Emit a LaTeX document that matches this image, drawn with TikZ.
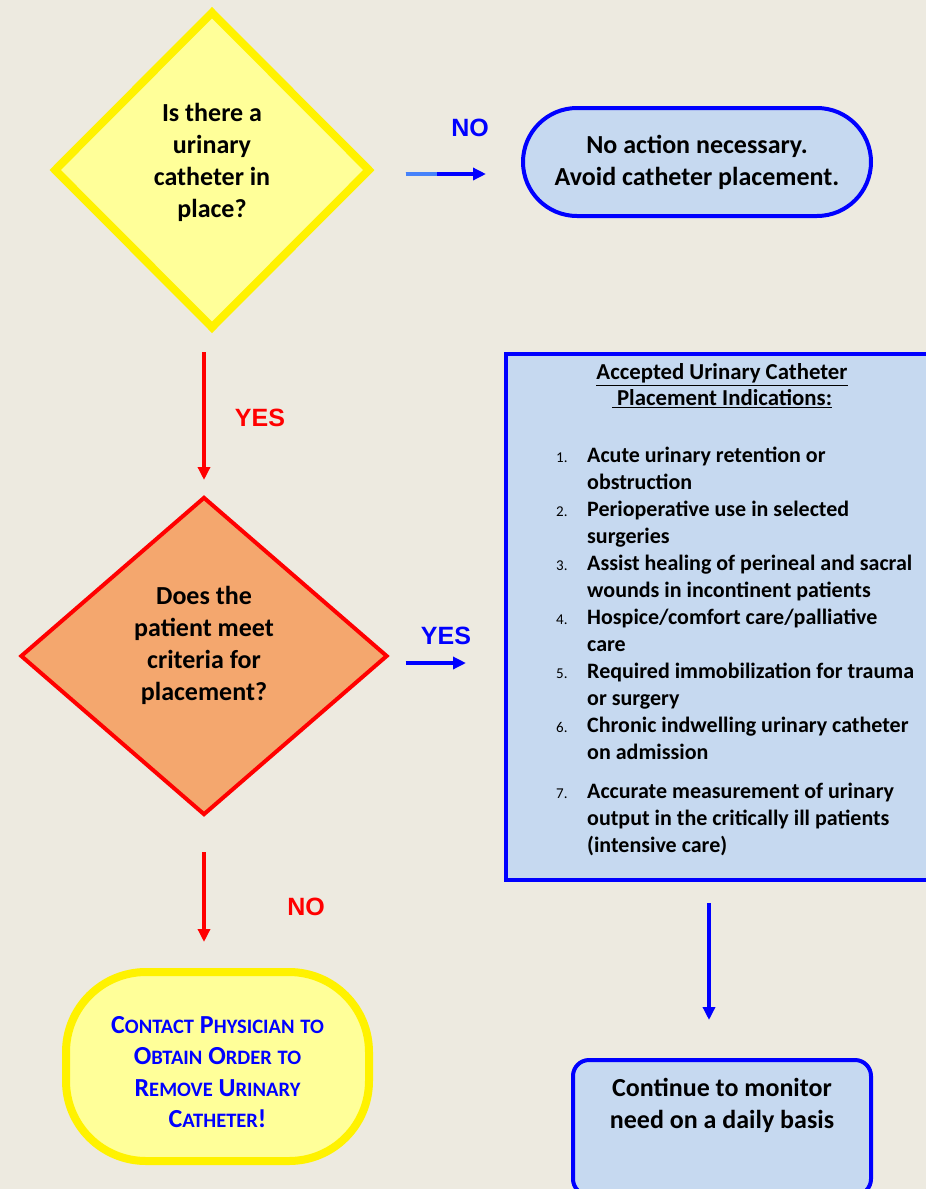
\documentclass[tikz,border=0pt]{standalone}
\usepackage{fontspec}
\setmainfont{Carlito}
\newfontfamily\arialfont{Liberation Sans}
\usepackage{tikz}
\usetikzlibrary{shapes.geometric,positioning,arrows.meta,calc}
\definecolor{bgcream}{RGB}{237,234,224}
\definecolor{paleyellow}{RGB}{255,255,153}
\definecolor{paleblue}{RGB}{198,217,240}
\definecolor{orangefill}{RGB}{244,167,110}
\definecolor{pureblue}{RGB}{0,0,255}
\definecolor{softblue}{RGB}{70,130,250}
\newcommand\bigfont{\fontsize{26}{32}\selectfont\bfseries}
\newcommand\listfont{\fontsize{22}{27}\selectfont\bfseries}
\newcommand\numfont{\fontsize{15}{18}\selectfont\mdseries}
\newcommand\scfont{\fontsize{26}{31.3}\selectfont\bfseries}
\newcommand\smc[1]{{\fontsize{20.5}{24}\selectfont #1}}
\tikzstyle{decision}  = [diamond, aspect=1, inner sep=0pt, align=flush center, text width=150pt, font=\bigfont]
\tikzstyle{terminal}  = [rectangle, rounded corners=54pt, draw=pureblue, fill=paleblue, line width=4pt, align=flush center, text width=300pt, font=\bigfont]
\tikzstyle{process}   = [rectangle, draw=pureblue, fill=paleblue, line width=4pt]
\tikzstyle{startstop} = [rectangle, rounded corners=80pt, draw=yellow, fill=paleyellow, line width=8pt, align=flush center, text width=270pt, font=\scfont, text=pureblue]
\tikzstyle{answer}    = [font={\arialfont\bfseries\fontsize{25}{30}\selectfont}]
\tikzstyle{arrow}     = [line width=3.5pt, -{Triangle[length=13pt,width=12pt]}]

\begin{document}
\begin{tikzpicture}[x=1pt,y=-1pt]
	\useasboundingbox (0,0) rectangle (926,1189);
	\clip (0,0) rectangle (926,1189);
	\fill[bgcream] (0,0) rectangle (926,1189);

	\node[decision, draw=yellow, fill=paleyellow, line width=8pt, minimum width=317pt, minimum height=318pt, text depth=115pt] (q1) at (212,170) {Is there a\\urinary\\catheter in\\place?};
	\node[terminal, minimum width=348pt, minimum height=108pt] (none) at (697,162) {No action necessary.\\Avoid catheter placement.};
	\node[decision, draw=red, fill=orangefill, line width=4pt, minimum width=367pt, minimum height=318pt, text depth=121pt] (q2) at (204,656) {Does the\\patient meet\\criteria for\\placement?};
	\node[process, minimum width=434pt, minimum height=526pt] (crit) at (723,617) {};
	\node[font=\fontsize{22.8}{26}\selectfont\bfseries, align=center] (crithead) at (722,386) {\underline{Accepted Urinary Catheter}\\\underline{~Placement Indications:}};
	\node[anchor=north west, inner sep=0pt, font=\listfont] (critlist) at (556,443) {%
		\begin{tabular}{@{}p{31pt}@{}l@{}}
			{\numfont 1.} & Acute urinary retention or\\
			 & obstruction\\
			{\numfont 2.} & Perioperative use in selected\\
			 & surgeries\\
			{\numfont 3.} & Assist healing of perineal and sacral\\
			 & wounds in incontinent patients\\
			{\numfont 4.} & Hospice/comfort care/palliative\\
			 & care\\
			{\numfont 5.} & Required immobilization for trauma\\
			 & or surgery\\
			{\numfont 6.} & Chronic indwelling urinary catheter\\
			 & on admission\\[12pt]
			{\numfont 7.} & Accurate measurement of urinary\\
			 & output in the critically ill patients\\
			 & (intensive care)
		\end{tabular}};
	\node[startstop, minimum width=303pt, minimum height=189pt, text height=28pt] (contact) at (217.5,1066.5) {C\smc{ONTACT} P\smc{HYSICIAN} \smc{TO}\\O\smc{BTAIN} O\smc{RDER} \smc{TO}\\R\smc{EMOVE} U\smc{RINARY}\\C\smc{ATHETER}!};
	\node[process, rounded corners=16pt, minimum width=298pt, minimum height=135pt, align=flush center, text width=280pt, text depth=81pt, font=\bigfont] (cont) at (722,1127.5) {Continue to monitor\\need on a daily basis};

	\draw[arrow, pureblue, shorten <=31pt, shorten >=35pt] ([yshift=-4pt]q1.east) -- ([yshift=-4pt]q1.east -| none.west);
	\draw[line width=3.5pt, softblue, shorten <=31pt] ([yshift=-4pt]q1.east) -- ($([yshift=-4pt]q1.east)!0.43!([yshift=-4pt]q1.east -| none.west)$);
	\draw[arrow, red, shorten <=19pt, shorten >=15pt] (q1.south -| q2.north) -- (q2.north);
	\draw[arrow, pureblue, shorten <=16pt, shorten >=38pt] ([yshift=-7pt]q2.east) -- ([yshift=-7pt]q2.east -| crit.west);
	\draw[arrow, red, shorten <=35pt, shorten >=26pt] (q2.south) -- (q2.south |- contact.north);
	\draw[arrow, pureblue, shorten <=21pt, shorten >=38pt] ([xshift=-13pt]cont.north |- crit.south) -- ([xshift=-13pt]cont.north);

	\node[answer, text=pureblue] (nolbl) at (470,128) {NO};
	\node[answer, text=red] (yeslbl) at (260,418) {YES};
	\node[answer, text=pureblue] (yeslbl2) at (446,636) {YES};
	\node[answer, text=red] (nolbl2) at (306,907) {NO};
\end{tikzpicture}
\end{document}
